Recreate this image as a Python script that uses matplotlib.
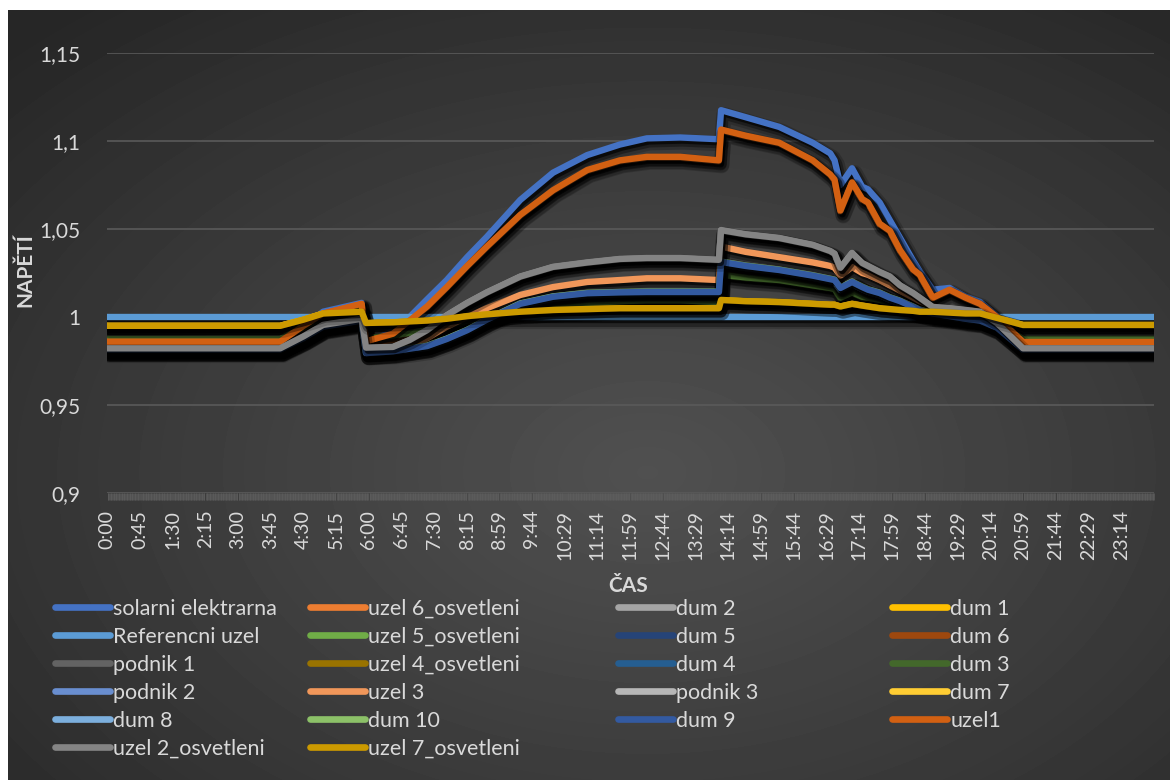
import numpy as np
import matplotlib
matplotlib.use("Agg")
import matplotlib.pyplot as plt
from matplotlib import patheffects as pe
from matplotlib.lines import Line2D

# ---------------------------------------------------------------- data
times = ["0:00", "3:58", "4:30", "4:57", "5:50", "5:56", "6:33", "6:56", "7:20", "7:47",
         "8:15", "8:42", "9:28", "10:13", "11:00", "11:45", "12:22", "13:08", "14:01", "14:04",
         "14:38", "15:24", "16:10", "16:34", "16:40", "16:48", "17:04", "17:18", "17:26", "17:42",
         "17:56", "18:10", "18:28", "18:37", "18:55", "19:18", "19:40", "20:00", "20:23", "20:59",
         "23:59"]

solarni_elektrarna = [
    0.9845, 0.9845, 0.9940, 1.0030, 1.0080, 0.9850, 0.9920, 1.0000, 1.0100, 1.0210,
    1.0340, 1.0455, 1.0665, 1.0820, 1.0920, 1.0980, 1.1015, 1.1020, 1.1010, 1.1175,
    1.1135, 1.1080, 1.0990, 1.0930, 1.0890, 1.0750, 1.0845, 1.0740, 1.0725, 1.0650,
    1.0550, 1.0450, 1.0320, 1.0260, 1.0155, 1.0165, 1.0115, 1.0085, 1.0005, 0.9855,
    0.9855]
uzel_6_osvetleni = [
    0.9858, 0.9858, 0.9948, 1.0018, 1.0072, 0.9860, 0.9900, 0.9975, 1.0055, 1.0165,
    1.0285, 1.0395, 1.0575, 1.0715, 1.0830, 1.0885, 1.0905, 1.0905, 1.0885, 1.1060,
    1.1025, 1.0985, 1.0885, 1.0805, 1.0775, 1.0600, 1.0760, 1.0665, 1.0645, 1.0525,
    1.0485, 1.0375, 1.0265, 1.0235, 1.0105, 1.0150, 1.0105, 1.0070, 0.9995, 0.9856,
    0.9856]
dum_2 = [
    0.9820, 0.9820, 0.9888, 0.9952, 0.9987, 0.9824, 0.9828, 0.9867, 0.9922, 1.0005,
    1.0075, 1.0135, 1.0225, 1.0280, 1.0305, 1.0325, 1.0330, 1.0330, 1.0320, 1.0488,
    1.0465, 1.0444, 1.0405, 1.0370, 1.0355, 1.0275, 1.0358, 1.0302, 1.0285, 1.0251,
    1.0225, 1.0175, 1.0131, 1.0105, 1.0053, 1.0046, 1.0036, 1.0027, 0.9963, 0.9820,
    0.9820]
dum_1 = [
    0.9948, 0.9948, 0.9983, 1.0018, 1.0028, 0.9964, 0.9968, 0.9973, 0.9978, 0.9988,
    1.0003, 1.0013, 1.0028, 1.0038, 1.0043, 1.0048, 1.0048, 1.0048, 1.0048, 1.0094,
    1.0088, 1.0083, 1.0073, 1.0068, 1.0068, 1.0058, 1.0073, 1.0063, 1.0058, 1.0048,
    1.0043, 1.0038, 1.0033, 1.0028, 1.0028, 1.0023, 1.0018, 1.0018, 0.9993, 0.9953,
    0.9953]
referencni_uzel = [
    1.0, 1.0, 1.0, 1.0, 1.0, 1.0, 1.0, 1.0, 1.0, 1.0,
    1.0, 1.0, 1.0, 1.0, 1.0, 1.0, 1.0, 1.0, 1.0, 1.0,
    1.0, 1.0, 1.0, 1.0, 1.0, 1.0, 1.0, 1.0, 1.0, 1.0,
    1.0, 1.0, 1.0, 1.0, 1.0, 1.0, 1.0, 1.0, 1.0, 1.0,
    1.0]
uzel_5_osvetleni = [
    0.9872, 0.9872, 0.9937, 0.9997, 1.0037, 0.9877, 0.9892, 0.9907, 0.9922, 0.9947,
    0.9977, 0.9997, 1.0037, 1.0062, 1.0077, 1.0087, 1.0092, 1.0092, 1.0082, 1.0236,
    1.0221, 1.0206, 1.0176, 1.0161, 1.0156, 1.0106, 1.0136, 1.0111, 1.0106, 1.0093,
    1.0081, 1.0061, 1.0037, 1.0027, 1.0012, 1.0007, 0.9997, 0.9987, 0.9962, 0.9872,
    0.9872]
dum_5 = [
    0.9814, 0.9814, 0.9879, 0.9944, 0.9979, 0.9796, 0.9806, 0.9821, 0.9836, 0.9876,
    0.9926, 0.9986, 1.0074, 1.0114, 1.0134, 1.0139, 1.0141, 1.0141, 1.0141, 1.0310,
    1.0288, 1.0265, 1.0233, 1.0213, 1.0208, 1.0163, 1.0197, 1.0168, 1.0153, 1.0134,
    1.0108, 1.0088, 1.0055, 1.0038, 1.0018, 1.0003, 0.9988, 0.9978, 0.9938, 0.9814,
    0.9814]
dum_6 = [
    0.9860, 0.9860, 0.9930, 0.9990, 1.0030, 0.9850, 0.9870, 0.9890, 0.9910, 0.9940,
    0.9970, 1.0010, 1.0060, 1.0090, 1.0110, 1.0120, 1.0120, 1.0120, 1.0120, 1.0278,
    1.0260, 1.0235, 1.0205, 1.0190, 1.0185, 1.0140, 1.0170, 1.0145, 1.0130, 1.0110,
    1.0090, 1.0070, 1.0040, 1.0030, 1.0010, 1.0000, 0.9995, 0.9990, 0.9960, 0.9860,
    0.9860]
podnik_1 = [
    0.9818, 0.9818, 0.9883, 0.9948, 0.9983, 0.9798, 0.9808, 0.9823, 0.9838, 0.9878,
    0.9928, 0.9988, 1.0078, 1.0118, 1.0138, 1.0143, 1.0145, 1.0145, 1.0145, 1.0316,
    1.0293, 1.0270, 1.0238, 1.0218, 1.0213, 1.0168, 1.0202, 1.0173, 1.0158, 1.0139,
    1.0113, 1.0093, 1.0060, 1.0043, 1.0023, 1.0008, 0.9993, 0.9983, 0.9943, 0.9818,
    0.9818]
uzel_4_osvetleni = [
    0.9949, 0.9949, 0.9984, 1.0019, 1.0029, 0.9965, 0.9969, 0.9974, 0.9979, 0.9989,
    1.0004, 1.0014, 1.0029, 1.0039, 1.0044, 1.0049, 1.0049, 1.0049, 1.0049, 1.0095,
    1.0089, 1.0084, 1.0074, 1.0069, 1.0069, 1.0059, 1.0074, 1.0064, 1.0059, 1.0049,
    1.0044, 1.0039, 1.0034, 1.0029, 1.0029, 1.0024, 1.0019, 1.0019, 0.9994, 0.9954,
    0.9954]
dum_4 = [
    0.9816, 0.9816, 0.9881, 0.9946, 0.9981, 0.9796, 0.9806, 0.9821, 0.9836, 0.9876,
    0.9926, 0.9986, 1.0076, 1.0116, 1.0136, 1.0141, 1.0143, 1.0143, 1.0143, 1.0312,
    1.0289, 1.0266, 1.0234, 1.0214, 1.0209, 1.0164, 1.0198, 1.0169, 1.0154, 1.0135,
    1.0109, 1.0089, 1.0056, 1.0039, 1.0019, 1.0004, 0.9989, 0.9979, 0.9939, 0.9816,
    0.9816]
dum_3 = [
    0.9875, 0.9875, 0.9940, 1.0000, 1.0040, 0.9880, 0.9895, 0.9910, 0.9925, 0.9950,
    0.9980, 1.0000, 1.0040, 1.0065, 1.0080, 1.0090, 1.0095, 1.0095, 1.0085, 1.0240,
    1.0225, 1.0210, 1.0180, 1.0165, 1.0160, 1.0110, 1.0140, 1.0115, 1.0110, 1.0097,
    1.0085, 1.0065, 1.0040, 1.0030, 1.0015, 1.0010, 1.0000, 0.9990, 0.9965, 0.9875,
    0.9875]
podnik_2 = [
    0.9813, 0.9813, 0.9878, 0.9943, 0.9978, 0.9795, 0.9804, 0.9819, 0.9834, 0.9874,
    0.9923, 0.9983, 1.0072, 1.0112, 1.0132, 1.0137, 1.0139, 1.0139, 1.0139, 1.0308,
    1.0286, 1.0263, 1.0231, 1.0211, 1.0206, 1.0161, 1.0195, 1.0166, 1.0151, 1.0132,
    1.0106, 1.0086, 1.0053, 1.0036, 1.0016, 1.0001, 0.9986, 0.9976, 0.9936, 0.9813,
    0.9813]
uzel_3 = [
    0.9807, 0.9807, 0.9875, 0.9940, 0.9975, 0.9810, 0.9815, 0.9835, 0.9880, 0.9945,
    1.0000, 1.0050, 1.0125, 1.0170, 1.0199, 1.0210, 1.0220, 1.0220, 1.0210, 1.0400,
    1.0370, 1.0340, 1.0310, 1.0290, 1.0280, 1.0235, 1.0284, 1.0250, 1.0240, 1.0210,
    1.0180, 1.0150, 1.0110, 1.0090, 1.0060, 1.0040, 1.0030, 1.0010, 0.9960, 0.9807,
    0.9807]
podnik_3 = [
    0.9821, 0.9821, 0.9889, 0.9953, 0.9988, 0.9825, 0.9829, 0.9868, 0.9924, 1.0008,
    1.0078, 1.0138, 1.0228, 1.0283, 1.0308, 1.0328, 1.0333, 1.0333, 1.0323, 1.0491,
    1.0468, 1.0447, 1.0408, 1.0373, 1.0358, 1.0278, 1.0361, 1.0305, 1.0288, 1.0254,
    1.0228, 1.0178, 1.0134, 1.0108, 1.0055, 1.0048, 1.0038, 1.0029, 0.9965, 0.9821,
    0.9821]
dum_7 = [
    0.9950, 0.9950, 0.9984, 1.0019, 1.0029, 0.9965, 0.9969, 0.9974, 0.9979, 0.9989,
    1.0004, 1.0014, 1.0029, 1.0039, 1.0044, 1.0049, 1.0049, 1.0049, 1.0049, 1.0096,
    1.0089, 1.0084, 1.0074, 1.0069, 1.0069, 1.0059, 1.0074, 1.0064, 1.0059, 1.0049,
    1.0044, 1.0039, 1.0034, 1.0029, 1.0029, 1.0024, 1.0019, 1.0019, 0.9994, 0.9954,
    0.9954]
dum_8 = [
    0.9815, 0.9815, 0.9878, 0.9940, 0.9972, 0.9793, 0.9800, 0.9810, 0.9824, 0.9863,
    0.9913, 0.9973, 1.0063, 1.0103, 1.0123, 1.0128, 1.0130, 1.0130, 1.0130, 1.0300,
    1.0278, 1.0255, 1.0223, 1.0203, 1.0198, 1.0153, 1.0187, 1.0158, 1.0143, 1.0124,
    1.0098, 1.0078, 1.0045, 1.0028, 1.0010, 0.9995, 0.9982, 0.9975, 0.9935, 0.9815,
    0.9815]
dum_10 = [
    0.9816, 0.9816, 0.9881, 0.9946, 0.9981, 0.9797, 0.9807, 0.9822, 0.9837, 0.9877,
    0.9927, 0.9987, 1.0077, 1.0117, 1.0137, 1.0142, 1.0144, 1.0144, 1.0144, 1.0315,
    1.0292, 1.0269, 1.0237, 1.0217, 1.0212, 1.0167, 1.0201, 1.0172, 1.0157, 1.0138,
    1.0112, 1.0092, 1.0059, 1.0042, 1.0022, 1.0007, 0.9992, 0.9982, 0.9942, 0.9816,
    0.9816]
dum_9 = [
    0.9815, 0.9815, 0.9880, 0.9945, 0.9980, 0.9795, 0.9805, 0.9820, 0.9835, 0.9875,
    0.9925, 0.9985, 1.0075, 1.0115, 1.0135, 1.0140, 1.0142, 1.0142, 1.0142, 1.0313,
    1.0290, 1.0267, 1.0235, 1.0215, 1.0210, 1.0165, 1.0199, 1.0170, 1.0155, 1.0136,
    1.0110, 1.0090, 1.0057, 1.0040, 1.0020, 1.0005, 0.9990, 0.9980, 0.9940, 0.9815,
    0.9815]
uzel1 = [
    0.9860, 0.9860, 0.9950, 1.0020, 1.0075, 0.9862, 0.9905, 0.9980, 1.0060, 1.0170,
    1.0290, 1.0400, 1.0580, 1.0720, 1.0835, 1.0890, 1.0910, 1.0910, 1.0890, 1.1065,
    1.1030, 1.0990, 1.0890, 1.0810, 1.0780, 1.0605, 1.0765, 1.0670, 1.0650, 1.0530,
    1.0490, 1.0380, 1.0270, 1.0240, 1.0110, 1.0155, 1.0110, 1.0075, 1.0000, 0.9858,
    0.9858]
uzel_2_osvetleni = [
    0.9822, 0.9822, 0.9890, 0.9955, 0.9990, 0.9826, 0.9830, 0.9870, 0.9926, 1.0010,
    1.0080, 1.0140, 1.0230, 1.0285, 1.0310, 1.0330, 1.0335, 1.0335, 1.0325, 1.0494,
    1.0470, 1.0449, 1.0410, 1.0375, 1.0360, 1.0280, 1.0364, 1.0307, 1.0290, 1.0256,
    1.0230, 1.0180, 1.0136, 1.0110, 1.0057, 1.0050, 1.0040, 1.0030, 0.9966, 0.9822,
    0.9822]
uzel_7_osvetleni = [
    0.9950, 0.9950, 0.9985, 1.0020, 1.0030, 0.9966, 0.9970, 0.9975, 0.9980, 0.9990,
    1.0005, 1.0015, 1.0030, 1.0040, 1.0045, 1.0050, 1.0050, 1.0050, 1.0050, 1.0097,
    1.0090, 1.0085, 1.0075, 1.0070, 1.0070, 1.0060, 1.0075, 1.0065, 1.0060, 1.0050,
    1.0045, 1.0040, 1.0035, 1.0030, 1.0030, 1.0025, 1.0020, 1.0020, 0.9995, 0.9955,
    0.9955]

series_names = ["solarni elektrarna", "uzel 6_osvetleni", "dum 2", "dum 1",
                "Referencni uzel", "uzel 5_osvetleni", "dum 5", "dum 6",
                "podnik 1", "uzel 4_osvetleni", "dum 4", "dum 3",
                "podnik 2", "uzel 3", "podnik 3", "dum 7",
                "dum 8", "dum 10", "dum 9", "uzel1",
                "uzel 2_osvetleni", "uzel 7_osvetleni"]
series_values = [solarni_elektrarna, uzel_6_osvetleni, dum_2, dum_1,
                 referencni_uzel, uzel_5_osvetleni, dum_5, dum_6,
                 podnik_1, uzel_4_osvetleni, dum_4, dum_3,
                 podnik_2, uzel_3, podnik_3, dum_7,
                 dum_8, dum_10, dum_9, uzel1,
                 uzel_2_osvetleni, uzel_7_osvetleni]
series_colors = ["#4472C4", "#ED7D31", "#A5A5A5", "#FFC000",
                 "#5B9BD5", "#70AD47", "#264478", "#9E480E",
                 "#636363", "#997300", "#255E91", "#43682B",
                 "#698ED0", "#F1975A", "#B7B7B7", "#FFCD33",
                 "#7CAFDD", "#8CC168", "#335AA1", "#D26012",
                 "#848484", "#CC9A00"]

x_tick_labels = ["0:00", "0:45", "1:30", "2:15", "3:00", "3:45", "4:30", "5:15",
                 "6:00", "6:45", "7:30", "8:15", "8:59", "9:44", "10:29", "11:14",
                 "11:59", "12:44", "13:29", "14:14", "14:59", "15:44", "16:29", "17:14",
                 "17:59", "18:44", "19:29", "20:14", "20:59", "21:44", "22:29", "23:14"]
y_ticks = [0.9, 0.95, 1.0, 1.05, 1.1, 1.15]
y_tick_labels = ["0,9", "0,95", "1", "1,05", "1,1", "1,15"]


def to_minutes(label):
    h, m = label.split(":")
    return int(h) * 60 + int(m)


x_minutes = [to_minutes(t) for t in times]
x_tick_pos = [to_minutes(t) for t in x_tick_labels]

# ---------------------------------------------------------------- figure
plt.rcParams['font.family'] = ['Lato', 'DejaVu Sans']
TXT = "#d9d9d9"
W, H = 1170, 780
fig = plt.figure(figsize=(W / 100, H / 100), dpi=100, facecolor="white")

# dark radial-gradient chart area
bg = fig.add_axes([8 / W, 0, 1 - 8 / W, 1 - 10 / H], zorder=-10)
bg.set_axis_off()
ph, pw = 770, 1162
yy, xx = np.mgrid[0:ph, 0:pw]
r = np.sqrt(((xx - 0.55 * pw) / pw) ** 2 + ((yy - 0.60 * ph) / ph) ** 2)
r = np.clip(r / 0.78, 0, 1)
light, dark = 0x50 / 255, 0x26 / 255
img = light + (dark - light) * r ** 1.1
bg.imshow(img, cmap="gray", vmin=0, vmax=1, aspect="auto", interpolation="bilinear")

left, right, top, bottom = 107, 1154, 53, 493
ax = fig.add_axes([left / W, 1 - bottom / H, (right - left) / W, (bottom - top) / H])
ax.set_facecolor("none")
ax.set_xlim(0, 1439)
ax.set_ylim(0.9, 1.15)
for s in ax.spines.values():
    s.set_visible(False)

ax.set_yticks(y_ticks)
ax.set_yticklabels(y_tick_labels)
ax.yaxis.grid(True, color="#5a5a5a", lw=1.2)
ax.set_axisbelow(True)
ax.tick_params(axis="y", length=0, pad=19, labelsize=15, labelcolor=TXT)

ax.set_xticks(x_tick_pos)
ax.set_xticklabels(x_tick_labels, rotation=90)
ax.set_xticks(np.arange(0, 1440), minor=True)
ax.tick_params(axis="x", which="major", length=0, pad=12, labelsize=14, labelcolor=TXT)
ax.tick_params(axis="x", which="minor", length=5, width=0.5, color="#5e5e5e")

shadow = [pe.SimpleLineShadow(offset=(2.0, -3.2), shadow_color="black", alpha=0.18, linewidth=11),
          pe.SimpleLineShadow(offset=(1.6, -2.6), shadow_color="black", alpha=0.35, linewidth=8),
          pe.SimpleLineShadow(offset=(1.4, -2.2), shadow_color="black", alpha=0.65),
          pe.Normal()]

for i, (vals, col) in enumerate(zip(series_values, series_colors)):
    ax.plot(x_minutes, vals, color=col, lw=4.6, solid_joinstyle="round",
            solid_capstyle="round", path_effects=shadow, zorder=3 + i)

fig.text(628 / W, 1 - 586 / H, "ČAS", ha="center", va="center", fontsize=15,
         fontweight="bold", color=TXT)
fig.text(25 / W, 1 - 270 / H, "NAPĚTÍ", ha="center", va="center", rotation=90,
         fontsize=15, fontweight="bold", color=TXT)

# legend: four columns, filled row by row
col_x = [55, 310, 618, 892]
for c in range(4):
    idx = list(range(c, len(series_names), 4))
    handles = [Line2D([0], [0], color=series_colors[k], lw=4.8, solid_capstyle="round")
               for k in idx]
    labels = [series_names[k] for k in idx]
    fig.legend(handles, labels, loc="upper left",
               bbox_to_anchor=(col_x[c] / W, 1 - 599 / H), bbox_transform=fig.transFigure,
               frameon=False, fontsize=15.5, labelcolor=TXT, borderpad=0, borderaxespad=0,
               handlelength=2.56, handletextpad=0.14, labelspacing=0.37)

fig.savefig("out.png", dpi=100, facecolor="white")
